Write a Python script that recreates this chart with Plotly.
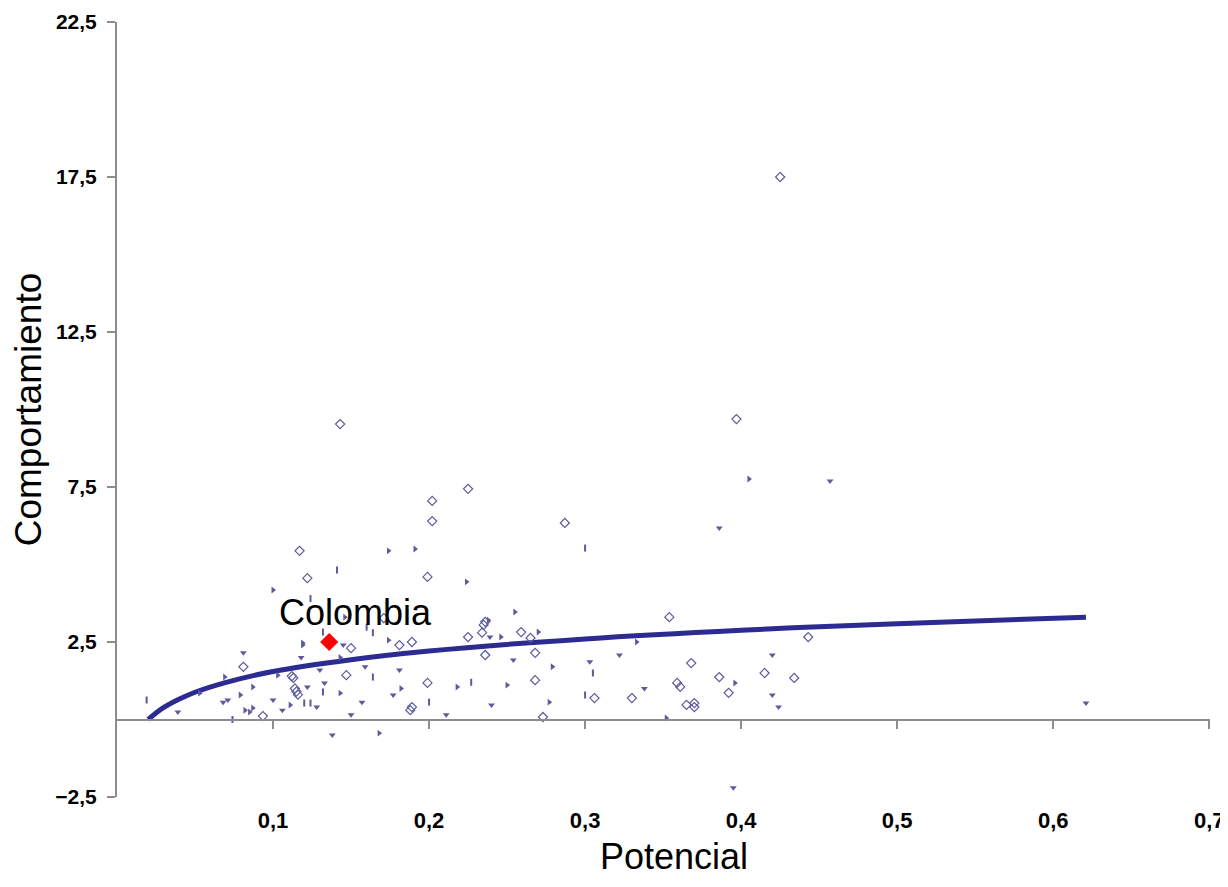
import plotly.graph_objects as go

# ---- data ----
diam_x = [0.117, 0.122, 0.143, 0.202, 0.202, 0.225, 0.199, 0.287, 0.397, 0.425,
          0.081, 0.0935, 0.112, 0.113, 0.114, 0.115, 0.116, 0.150, 0.147, 0.181,
          0.189, 0.199, 0.189, 0.188, 0.225, 0.234, 0.235, 0.236, 0.236, 0.259,
          0.265, 0.268, 0.268, 0.273, 0.306, 0.330, 0.354, 0.359, 0.361, 0.365,
          0.370, 0.370, 0.368, 0.386, 0.392, 0.415, 0.434, 0.443, 0.171]
diam_y = [5.44, 4.56, 9.53, 7.05, 6.40, 7.44, 4.60, 6.34, 9.69, 17.5,
          1.70, 0.11, 1.40, 1.34, 1.00, 0.90, 0.80, 2.30, 1.43, 2.40,
          2.50, 1.18, 0.40, 0.30, 2.66, 2.80, 3.05, 3.15, 2.08, 2.82,
          2.63, 2.15, 1.27, 0.08, 0.69, 0.69, 3.30, 1.18, 1.05, 0.47,
          0.53, 0.40, 1.82, 1.37, 0.86, 1.50, 1.34, 2.66, 3.27]

tdown_x = [0.081, 0.039, 0.068, 0.071, 0.106, 0.118, 0.122, 0.145, 0.130, 0.159,
           0.181, 0.133, 0.157, 0.177, 0.150, 0.211, 0.240, 0.138, 0.239, 0.254,
           0.303, 0.322, 0.338, 0.386, 0.457, 0.420, 0.420, 0.424, 0.395, 0.621,
           0.100, 0.128]
tdown_y = [2.15, 0.24, 0.56, 0.63, 0.30, 2.00, 1.05, 2.40, 1.60, 1.70,
           1.60, 1.18, 0.56, 0.79, 0.15, 0.15, 0.47, -0.50, 2.66, 1.92,
           1.86, 2.08, 1.00, 6.18, 7.69, 2.08, 0.79, 0.40, -2.20, 0.53,
           0.63, 0.40]

tright_x = [0.100, 0.069, 0.079, 0.087, 0.082, 0.085, 0.087, 0.111, 0.119, 0.119,
            0.143, 0.174, 0.143, 0.182, 0.218, 0.168, 0.224, 0.174, 0.191, 0.238,
            0.255, 0.270, 0.246, 0.279, 0.333, 0.250, 0.277, 0.352, 0.396, 0.405,
            0.146, 0.053, 0.103]
tright_y = [4.18, 1.37, 0.79, 1.05, 0.30, 0.24, 0.37, 0.47, 2.47, 2.40,
            2.00, 2.56, 0.85, 1.00, 1.05, -0.44, 4.44, 5.44, 5.50, 3.20,
            3.47, 2.82, 2.66, 1.70, 2.50, 1.11, 0.56, 0.05, 1.18, 7.76,
            3.30, 0.85, 1.43]

bar_x = [0.019, 0.141, 0.124, 0.164, 0.164, 0.132, 0.200, 0.227, 0.300, 0.305,
         0.300, 0.074, 0.132, 0.160, 0.120, 0.124]
bar_y = [0.63, 4.82, 3.90, 2.80, 1.37, 0.89, 0.56, 1.20, 5.53, 1.50,
         0.79, 0.00, 2.82, 2.98, 0.53, 0.53]

trend_x = [0.02, 0.025, 0.03, 0.04, 0.05, 0.07, 0.1, 0.15, 0.2, 0.3, 0.4, 0.5, 0.621]
trend_y = [0.00, 0.21, 0.39, 0.66, 0.88, 1.20, 1.55, 1.93, 2.21, 2.60, 2.88, 3.09, 3.30]

colombia_x = [0.136]
colombia_y = [2.5]
colombia_label = "Colombia"

x_title = "Potencial"
y_title = "Comportamiento"

x_ticks = [0.1, 0.2, 0.3, 0.4, 0.5, 0.6, 0.7]
y_ticks = [-2.5, 2.5, 7.5, 12.5, 17.5, 22.5]

# ---- styles ----
PT = "#5b5b9e"
LINE = "#2b2b92"
AX = "#8c8c8c"
FONT = "Arial, Liberation Sans, sans-serif"

fig = go.Figure()

fig.add_trace(go.Scatter(x=trend_x, y=trend_y, mode="lines", line=dict(color=LINE, width=5, shape="spline"),
                         hoverinfo="skip", showlegend=False))
fig.add_trace(go.Scatter(x=diam_x, y=diam_y, mode="markers", showlegend=False,
                         marker=dict(symbol="diamond-open", size=7, color=PT, line=dict(width=1.2, color=PT))))
fig.add_trace(go.Scatter(x=tdown_x, y=tdown_y, mode="markers", showlegend=False,
                         marker=dict(symbol="triangle-down", size=6, color=PT)))
fig.add_trace(go.Scatter(x=tright_x, y=tright_y, mode="markers", showlegend=False,
                         marker=dict(symbol="triangle-right", size=6, color=PT)))
fig.add_trace(go.Scatter(x=bar_x, y=bar_y, mode="markers", showlegend=False,
                         marker=dict(symbol="line-ns", size=5, color=PT, line=dict(width=2, color=PT))))
fig.add_trace(go.Scatter(x=colombia_x, y=colombia_y, mode="markers", showlegend=False,
                         marker=dict(symbol="diamond", size=14, color="#ff0000")))
# helper trace for the x axis line drawn through y = 0
fig.add_trace(go.Scatter(x=[0, 0.7], y=[0, 0], xaxis="x2", mode="lines", line=dict(width=0),
                         hoverinfo="skip", showlegend=False))

fig.add_annotation(x=colombia_x[0], y=colombia_y[0], text=colombia_label, showarrow=False,
                   xshift=26, yshift=30, font=dict(family=FONT, size=36, color="black"))
# x axis title
fig.add_annotation(xref="paper", yref="paper", x=0.5, y=-0.077, xanchor="center", yanchor="middle",
                   xshift=10, text=x_title, showarrow=False,
                   font=dict(family=FONT, size=36, color="black"))

XR = [0, 0.7005]
fig.update_layout(
    width=1220, height=871,
    margin=dict(l=109, r=18, t=14, b=82, autoexpand=False),
    paper_bgcolor="white", plot_bgcolor="white",
    separators=",.",
    font=dict(family=FONT, color="black"),
    xaxis=dict(range=XR, tickvals=x_ticks, tickformat=".1f", showline=False, ticks="",
               showgrid=False, zeroline=False, ticklabelstandoff=8, automargin=False,
               ticklabeloverflow="allow",
               tickfont=dict(family=FONT, size=22, weight="bold", color="black")),
    xaxis2=dict(range=XR, overlaying="x", anchor="free", position=0.1, tickvals=x_ticks,
                showticklabels=False, ticks="outside", ticklen=8, tickwidth=2, tickcolor=AX,
                showline=True, linecolor=AX, linewidth=2, showgrid=False, zeroline=False),
    yaxis=dict(range=[-2.5, 22.5], tickvals=y_ticks, tickformat=".1f", showline=True, linecolor=AX,
               linewidth=2, ticks="outside", ticklen=8, tickwidth=2, tickcolor=AX,
               showgrid=False, zeroline=False, ticklabelstandoff=6, automargin=False,
               ticklabeloverflow="allow",
               tickfont=dict(family=FONT, size=21, weight="bold", color="black"),
               title=dict(text=y_title, font=dict(family=FONT, size=37), standoff=12)),
)

fig.write_html("out.html")
